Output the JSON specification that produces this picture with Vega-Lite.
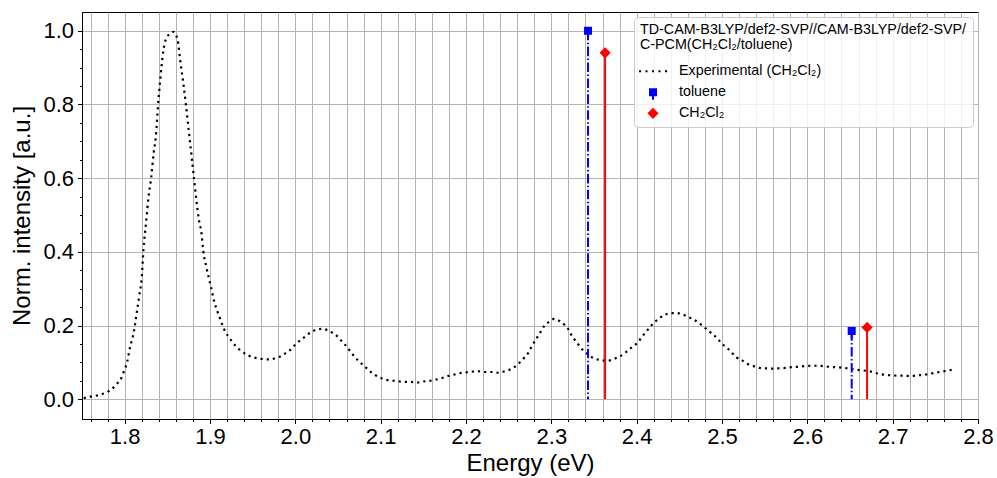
{
  "$schema": "https://vega.github.io/schema/vega-lite/v6.json",
  "width": 896,
  "height": 407,
  "autosize": "none",
  "padding": {"left": 82, "top": 12, "right": 19, "bottom": 59},
  "background": "white",
  "config": {
    "font": "Liberation Sans",
    "view": {"stroke": "black", "strokeWidth": 1},
    "axis": {
      "domainColor": "black",
      "tickColor": "black",
      "labelColor": "black",
      "titleColor": "black",
      "gridColor": "#b4b4b4",
      "gridWidth": 1,
      "labelFontSize": 22,
      "titleFontSize": 24,
      "titleFontWeight": "normal",
      "labelFont": "Liberation Sans",
      "titleFont": "Liberation Sans"
    }
  },
  "datasets": {
    "exp": [
      {"E": 1.752, "I": 0.003}, {"E": 1.759, "I": 0.007}, {"E": 1.767, "I": 0.010}, {"E": 1.773, "I": 0.014},
      {"E": 1.780, "I": 0.020}, {"E": 1.785, "I": 0.028}, {"E": 1.791, "I": 0.042}, {"E": 1.796, "I": 0.057},
      {"E": 1.799, "I": 0.075}, {"E": 1.803, "I": 0.102}, {"E": 1.806, "I": 0.138}, {"E": 1.811, "I": 0.186},
      {"E": 1.814, "I": 0.232}, {"E": 1.817, "I": 0.279}, {"E": 1.820, "I": 0.330}, {"E": 1.822, "I": 0.405},
      {"E": 1.825, "I": 0.478}, {"E": 1.828, "I": 0.550}, {"E": 1.831, "I": 0.600}, {"E": 1.834, "I": 0.668},
      {"E": 1.837, "I": 0.725}, {"E": 1.839, "I": 0.795}, {"E": 1.841, "I": 0.849}, {"E": 1.844, "I": 0.921},
      {"E": 1.847, "I": 0.967}, {"E": 1.852, "I": 0.990}, {"E": 1.857, "I": 0.997}, {"E": 1.862, "I": 0.976},
      {"E": 1.865, "I": 0.921}, {"E": 1.869, "I": 0.853}, {"E": 1.872, "I": 0.795}, {"E": 1.875, "I": 0.731},
      {"E": 1.878, "I": 0.668}, {"E": 1.881, "I": 0.605}, {"E": 1.884, "I": 0.541}, {"E": 1.887, "I": 0.487},
      {"E": 1.890, "I": 0.451}, {"E": 1.892, "I": 0.405}, {"E": 1.896, "I": 0.356}, {"E": 1.901, "I": 0.306},
      {"E": 1.905, "I": 0.265}, {"E": 1.911, "I": 0.224}, {"E": 1.917, "I": 0.188}, {"E": 1.925, "I": 0.159},
      {"E": 1.935, "I": 0.134}, {"E": 1.944, "I": 0.120}, {"E": 1.956, "I": 0.111}, {"E": 1.963, "I": 0.109},
      {"E": 1.970, "I": 0.108}, {"E": 1.977, "I": 0.112}, {"E": 1.983, "I": 0.117}, {"E": 1.989, "I": 0.126},
      {"E": 1.996, "I": 0.138}, {"E": 2.001, "I": 0.151}, {"E": 2.006, "I": 0.160}, {"E": 2.012, "I": 0.171},
      {"E": 2.019, "I": 0.183}, {"E": 2.025, "I": 0.189}, {"E": 2.032, "I": 0.191}, {"E": 2.039, "I": 0.186},
      {"E": 2.045, "I": 0.178}, {"E": 2.051, "I": 0.167}, {"E": 2.056, "I": 0.153}, {"E": 2.061, "I": 0.141},
      {"E": 2.065, "I": 0.128}, {"E": 2.070, "I": 0.114}, {"E": 2.075, "I": 0.102}, {"E": 2.081, "I": 0.090},
      {"E": 2.086, "I": 0.079}, {"E": 2.092, "I": 0.068}, {"E": 2.099, "I": 0.059}, {"E": 2.106, "I": 0.053},
      {"E": 2.113, "I": 0.051}, {"E": 2.120, "I": 0.049}, {"E": 2.128, "I": 0.047}, {"E": 2.135, "I": 0.047},
      {"E": 2.142, "I": 0.045}, {"E": 2.149, "I": 0.048}, {"E": 2.157, "I": 0.050}, {"E": 2.164, "I": 0.053},
      {"E": 2.171, "I": 0.057}, {"E": 2.179, "I": 0.063}, {"E": 2.186, "I": 0.067}, {"E": 2.193, "I": 0.071},
      {"E": 2.200, "I": 0.073}, {"E": 2.207, "I": 0.075}, {"E": 2.215, "I": 0.076}, {"E": 2.222, "I": 0.074},
      {"E": 2.230, "I": 0.074}, {"E": 2.237, "I": 0.072}, {"E": 2.244, "I": 0.075}, {"E": 2.251, "I": 0.080},
      {"E": 2.257, "I": 0.088}, {"E": 2.263, "I": 0.100}, {"E": 2.268, "I": 0.112}, {"E": 2.273, "I": 0.126},
      {"E": 2.276, "I": 0.139}, {"E": 2.280, "I": 0.155}, {"E": 2.284, "I": 0.170}, {"E": 2.288, "I": 0.185},
      {"E": 2.292, "I": 0.200}, {"E": 2.298, "I": 0.211}, {"E": 2.303, "I": 0.218}, {"E": 2.310, "I": 0.212},
      {"E": 2.316, "I": 0.201}, {"E": 2.321, "I": 0.186}, {"E": 2.324, "I": 0.172}, {"E": 2.329, "I": 0.157},
      {"E": 2.333, "I": 0.144}, {"E": 2.338, "I": 0.131}, {"E": 2.344, "I": 0.120}, {"E": 2.350, "I": 0.111},
      {"E": 2.357, "I": 0.107}, {"E": 2.365, "I": 0.104}, {"E": 2.372, "I": 0.108}, {"E": 2.378, "I": 0.114},
      {"E": 2.385, "I": 0.123}, {"E": 2.390, "I": 0.133}, {"E": 2.396, "I": 0.144}, {"E": 2.402, "I": 0.156},
      {"E": 2.406, "I": 0.169}, {"E": 2.411, "I": 0.183}, {"E": 2.416, "I": 0.197}, {"E": 2.421, "I": 0.209},
      {"E": 2.426, "I": 0.219}, {"E": 2.433, "I": 0.229}, {"E": 2.440, "I": 0.234}, {"E": 2.447, "I": 0.234},
      {"E": 2.453, "I": 0.231}, {"E": 2.460, "I": 0.224}, {"E": 2.467, "I": 0.216}, {"E": 2.473, "I": 0.207},
      {"E": 2.479, "I": 0.196}, {"E": 2.485, "I": 0.184}, {"E": 2.491, "I": 0.173}, {"E": 2.496, "I": 0.161},
      {"E": 2.501, "I": 0.149}, {"E": 2.507, "I": 0.137}, {"E": 2.512, "I": 0.125}, {"E": 2.517, "I": 0.114},
      {"E": 2.524, "I": 0.105}, {"E": 2.530, "I": 0.096}, {"E": 2.537, "I": 0.090}, {"E": 2.544, "I": 0.085},
      {"E": 2.551, "I": 0.084}, {"E": 2.559, "I": 0.083}, {"E": 2.566, "I": 0.084}, {"E": 2.574, "I": 0.085},
      {"E": 2.581, "I": 0.087}, {"E": 2.589, "I": 0.088}, {"E": 2.597, "I": 0.090}, {"E": 2.604, "I": 0.091},
      {"E": 2.611, "I": 0.091}, {"E": 2.619, "I": 0.090}, {"E": 2.626, "I": 0.088}, {"E": 2.633, "I": 0.087},
      {"E": 2.640, "I": 0.086}, {"E": 2.647, "I": 0.084}, {"E": 2.655, "I": 0.081}, {"E": 2.662, "I": 0.079},
      {"E": 2.670, "I": 0.077}, {"E": 2.677, "I": 0.074}, {"E": 2.684, "I": 0.069}, {"E": 2.692, "I": 0.066},
      {"E": 2.699, "I": 0.065}, {"E": 2.707, "I": 0.064}, {"E": 2.714, "I": 0.064}, {"E": 2.721, "I": 0.063},
      {"E": 2.729, "I": 0.065}, {"E": 2.736, "I": 0.066}, {"E": 2.743, "I": 0.069}, {"E": 2.750, "I": 0.072},
      {"E": 2.757, "I": 0.075}, {"E": 2.765, "I": 0.078}, {"E": 2.773, "I": 0.082}
    ],
    "sticks": [
      {"series": "toluene", "E": 2.343, "I": 1.0},
      {"series": "toluene", "E": 2.652, "I": 0.185},
      {"series": "CH₂Cl₂", "E": 2.363, "I": 0.94},
      {"series": "CH₂Cl₂", "E": 2.670, "I": 0.195}
    ]
  },
  "encoding": {
    "x": {
      "field": "E", "type": "quantitative",
      "scale": {"domain": [1.75, 2.8], "nice": false, "zero": false},
      "axis": {
        "title": "Energy (eV)",
        "values": [1.76,1.78,1.8,1.82,1.84,1.86,1.88,1.9,1.92,1.94,1.96,1.98,2,2.02,2.04,2.06,2.08,2.1,2.12,2.14,2.16,2.18,2.2,2.22,2.24,2.26,2.28,2.3,2.32,2.34,2.36,2.38,2.4,2.42,2.44,2.46,2.48,2.5,2.52,2.54,2.56,2.58,2.6,2.62,2.64,2.66,2.68,2.7,2.72,2.74,2.76,2.78,2.8],
        "labelExpr": "abs(datum.value*10 - round(datum.value*10)) < 0.01 ? format(datum.value, '.1f') : ''",
        "tickSize": {"condition": {"test": "abs(datum.value*10 - round(datum.value*10)) < 0.01", "value": 4.5}, "value": 2.5},
        "labelPadding": 3,
        "labelFlush": false,
        "labelOverlap": false,
        "titlePadding": 4,
        "grid": true
      }
    },
    "y": {
      "field": "I", "type": "quantitative",
      "scale": {"domain": [-0.0535, 1.0508], "nice": false, "zero": false},
      "axis": {
        "title": "Norm. intensity [a.u.]",
        "values": [0,0.05,0.1,0.15,0.2,0.25,0.3,0.35,0.4,0.45,0.5,0.55,0.6,0.65,0.7,0.75,0.8,0.85,0.9,0.95,1.0],
        "labelExpr": "abs(datum.value*5 - round(datum.value*5)) < 0.01 ? format(datum.value, '.1f') : ''",
        "tickSize": {"condition": {"test": "abs(datum.value*5 - round(datum.value*5)) < 0.01", "value": 4.5}, "value": 2.5},
        "gridOpacity": {"condition": {"test": "abs(datum.value*5 - round(datum.value*5)) < 0.01", "value": 1}, "value": 0},
        "labelPadding": 4,
        "labelFlush": false,
        "labelOverlap": false,
        "titlePadding": 8,
        "grid": true
      }
    }
  },
  "layer": [
    {
      "data": {"name": "exp"},
      "mark": {"type": "line", "color": "black", "strokeWidth": 2.2, "strokeDash": [2.2, 4], "strokeCap": "butt", "interpolate": "monotone"}
    },
    {
      "data": {"name": "sticks"},
      "transform": [{"filter": "datum.series === 'toluene'"}],
      "mark": {"type": "rule", "color": "#0000ff", "strokeWidth": 2, "strokeDash": [9.6, 2.4, 1.5, 2.4]},
      "encoding": {
        "y2": {"datum": 0}
      }
    },
    {
      "data": {"name": "sticks"},
      "transform": [{"filter": "datum.series !== 'toluene'"}],
      "mark": {"type": "rule", "color": "#ff0000", "strokeWidth": 2},
      "encoding": {
        "y2": {"datum": 0}
      }
    },
    {
      "data": {"name": "sticks"},
      "mark": {"type": "point", "filled": true, "opacity": 1, "size": 400, "strokeWidth": 0},
      "encoding": {
        "color": {
          "field": "series", "type": "nominal",
          "scale": {"domain": ["Experimental (CH₂Cl₂)", "toluene", "CH₂Cl₂"], "range": ["#000000", "#0000ff", "#ff0000"]},
          "legend": {
            "title": ["TD-CAM-B3LYP/def2-SVP//CAM-B3LYP/def2-SVP/", "C-PCM(CH₂Cl₂/toluene)"],
            "orient": "top-right",
            "offset": 5,
            "titleFontSize": 14.3,
            "titleFontWeight": "normal",
            "titleColor": "black",
            "titleLimit": 500,
            "titleLineHeight": 15,
            "titlePadding": 9,
            "labelFontSize": 14.3,
            "labelColor": "black",
            "labelLimit": 500,
            "labelOffset": 16,
            "symbolSize": 400,
            "symbolStrokeWidth": 0,
            "symbolOffset": 3,
            "padding": 6,
            "rowPadding": 3,
            "fillColor": "rgba(255,255,255,0.8)",
            "strokeColor": "#cccccc",
            "cornerRadius": 4
          }
        },
        "shape": {
          "field": "series", "type": "nominal",
          "scale": {
            "domain": ["Experimental (CH₂Cl₂)", "toluene", "CH₂Cl₂"],
            "range": [
              "M-1.4,-0.1h0.2v0.2h-0.2z M-0.75,-0.1h0.2v0.2h-0.2z M-0.1,-0.1h0.2v0.2h-0.2z M0.55,-0.1h0.2v0.2h-0.2z M1.2,-0.1h0.2v0.2h-0.2z",
              "M-0.4,-0.4h0.8v0.8h-0.8z M-0.1,0.4h0.2v0.35h-0.2z",
              "M0,-0.56L0.56,0L0,0.56L-0.56,0Z"
            ]
          },
          "legend": {
            "title": ["TD-CAM-B3LYP/def2-SVP//CAM-B3LYP/def2-SVP/", "C-PCM(CH₂Cl₂/toluene)"]
          }
        }
      }
    }
  ]
}
